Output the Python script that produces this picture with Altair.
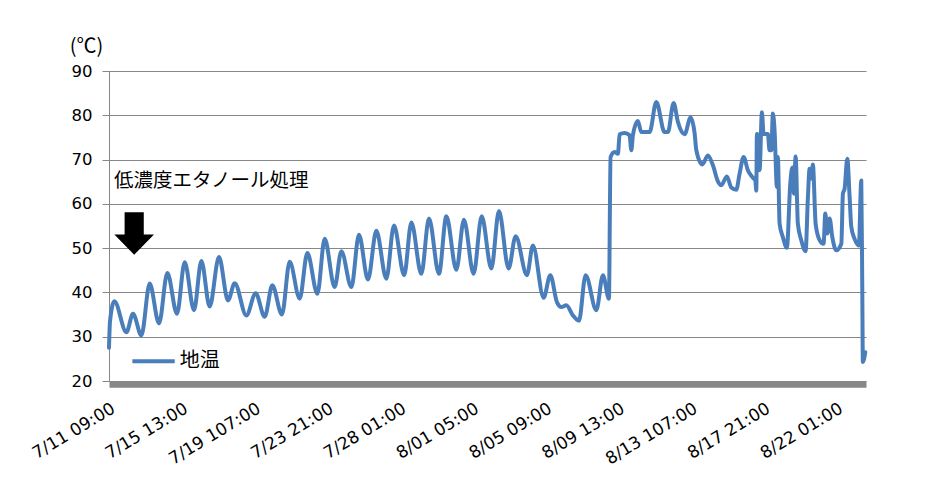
import altair as alt
import pandas as pd

# Soil temperature series (hours since 7/11 09:00, °C)
hours = [0, 1.4, 7.4, 23.9, 33.0, 44.5, 55.9, 68.7, 80.2, 93.4, 104.0, 116.8, 126.9, 138.3, 151.1,
         163.5, 172.7, 188.7, 201.5, 213.9, 224.4, 237.6, 248.2, 262.0, 272.5, 286.3, 296.3, 310.0,
         319.2, 333.0, 343.4, 355.8, 367.3, 381.0, 391.5, 405.5, 415.4, 429.1, 439.6, 453.3, 463.5,
         477.2, 487.6, 500.9, 512.0, 525.3, 535.7, 549.0, 558.7, 574.2, 582.4, 597.1, 606.3, 615.4,
         621.4, 628.3, 637.4, 645.6, 654.8, 669.5, 678.6, 686.8, 689.1, 694.6, 699.2, 701.5, 708.4,
         715.2, 717.6, 719.8, 726.6, 731.3, 742.7, 751.9, 763.3, 767.8, 775.7, 781.6, 790.8, 799.0,
         804.5, 806.9, 815.1, 822.8, 829.7, 836.5, 841.2, 848.9, 854.9, 861.8, 866.3, 871.8, 877.7,
         884.6, 887.9, 889.3, 890.1, 892.8, 893.8, 897.0, 899.3, 905.2, 907.5, 909.9, 912.1, 914.4,
         917.6, 918.9, 921.3, 925.8, 931.3, 936.0, 938.7, 940.9, 943.3, 946.4, 951.1, 957.0, 960.2,
         962.5, 964.8, 967.0, 970.8, 976.3, 981.7, 984.1, 986.8, 990.0, 993.7, 999.2, 1006.1, 1008.3,
         1010.6, 1014.3, 1017.5, 1019.8, 1024.3, 1030.2, 1033.5, 1034.9, 1035.7, 1039.0]
temps = [27.5, 33.5, 38, 31, 35.2, 30.3, 42, 33, 44.4, 35.2, 46.8, 36, 47.1, 36.8, 48,
         38.2, 42.1, 34.8, 39.8, 34.5, 41.6, 35, 46.9, 38.6, 48.9, 39.7, 52.1, 41.2,
         49.3, 41.2, 53, 42.9, 53.9, 43.1, 55.1, 43.9, 55.8, 44.2, 56.7, 44.2, 57.2,
         45.1, 56.4, 44.2, 57.2, 45.4, 58.4, 45.4, 52.7, 43.9, 50.6, 38.8, 43.9, 37.8,
         36.7, 37.1, 34.8, 33.6, 43.9, 36, 43.9, 38.6, 70.6, 71.7, 71.3, 75.7, 76,
         75.5, 72.1, 75.5, 78.7, 76.2, 76.2, 83, 76.2, 76.2, 82.8, 78.5, 75.7, 79.5,
         76, 72.1, 68.9, 70.9, 68.7, 65.1, 64.2, 66.2, 63.7, 63.2, 66.8, 70.6, 67.6,
         65.9, 65.3, 63, 75.8, 75.1, 67.6, 80.7, 75.8, 75.8, 72.1, 72.1, 80.4, 76.5,
         63.8, 70.6, 55.5, 52.5, 50.1, 64.6, 68.2, 62.3, 70.7, 55.5, 51.8, 49.3, 61.5,
         67.9, 65.7, 68.9, 55.5, 51.8, 51, 57.8, 53.3, 56.7, 52.5, 49.5, 51, 62.3,
         63.4, 70.2, 61.5, 54.8, 52.1, 50.6, 65.3, 40.5, 24.3, 26.5]
assert len(hours) == len(temps)

tick_hours = [0, 100, 200, 300, 400, 500, 600, 700, 800, 900, 1000]
tick_labels = ["7/11 09:00", "7/15 13:00", "7/19 107:00", "7/23 21:00", "7/28 01:00",
               "8/01 05:00", "8/05 09:00", "8/09 13:00", "8/13 107:00", "8/17 21:00",
               "8/22 01:00"]
y_ticks = [20, 30, 40, 50, 60, 70, 80, 90]
series_name = "地温"
annotation_text = "低濃度エタノール処理"
y_unit = "(℃)"

BLUE = "#4A7EBB"
GRAY = "#878787"

df = pd.DataFrame({"hour": hours, "temp": temps})
label_expr = "[" + ",".join("'%s'" % s for s in tick_labels) + "][round(datum.value/100)]"

x_scale = alt.Scale(domain=[0, 1040], nice=False, zero=False)
y_scale = alt.Scale(domain=[20, 90], nice=False, zero=False)

line = alt.Chart(df).mark_line(
    color=BLUE, strokeWidth=4, interpolate="monotone", strokeJoin="round", strokeCap="round"
).encode(
    x=alt.X("hour:Q", scale=x_scale, title=None,
            axis=alt.Axis(values=tick_hours, labelExpr=label_expr, grid=False, ticks=False,
                          labelAngle=-31, labelAlign="right", labelBaseline="top",
                          labelPadding=16, offset=3, domainColor=GRAY, domainWidth=6.5,
                          labelFont="DejaVu Sans", labelFontSize=17, labelColor="#000",
                          labelOverlap=False, labelBound=False, labelFlush=False)),
    y=alt.Y("temp:Q", scale=y_scale, title=None,
            axis=alt.Axis(values=y_ticks,
                          grid=True, gridColor=GRAY, gridWidth=1, tickColor=GRAY, tickSize=7,
                          domainColor=GRAY, labelFont="DejaVu Sans", labelFontSize=16.5,
                          labelColor="#000", labelPadding=10, labelFlush=False)),
)

unit_df = pd.DataFrame({"hour": [-31], "temp": [95.4], "text": [y_unit]})
unit = alt.Chart(unit_df).mark_text(
    align="center", baseline="middle", font="Noto Sans CJK JP", fontSize=20, color="#000"
).encode(x=alt.X("hour:Q", title=None), y=alt.Y("temp:Q", title=None), text="text:N")

ann_df = pd.DataFrame({"hour": [7], "temp": [65.2], "text": [annotation_text]})
ann = alt.Chart(ann_df).mark_text(
    align="left", baseline="middle", font="Noto Sans CJK JP", fontSize=19.5, color="#000"
).encode(x=alt.X("hour:Q", title=None), y=alt.Y("temp:Q", title=None), text="text:N")

arrow_df = pd.DataFrame({"hour": [34.6], "temp": [53.3]})
arrow_path = "M-0.45,-1 L0.45,-1 L0.45,0.05 L0.93,0.05 L0,1 L-0.93,0.05 L-0.45,0.05 Z"
arrow = alt.Chart(arrow_df).mark_point(
    shape=arrow_path, filled=True, color="#000", size=1815, opacity=1, strokeWidth=0
).encode(x=alt.X("hour:Q", title=None), y=alt.Y("temp:Q", title=None))

leg_df = pd.DataFrame({"hour": [32.1], "hour2": [90.3], "temp": [24.45],
                       "tx": [97.1], "name": [series_name]})
leg_line = alt.Chart(leg_df).mark_rule(color=BLUE, strokeWidth=4).encode(
    x=alt.X("hour:Q", title=None), x2="hour2:Q", y=alt.Y("temp:Q", title=None))
leg_text = alt.Chart(leg_df).mark_text(
    align="left", baseline="middle", font="Noto Sans CJK JP", fontSize=20, color="#000"
).encode(x=alt.X("tx:Q", title=None), y=alt.Y("temp:Q", title=None), text="name:N")

chart = alt.layer(line, unit, ann, arrow, leg_line, leg_text).properties(
    width=757, height=310,
    autosize=alt.AutoSizeParams(type="none"),
    padding={"left": 101, "top": 63, "right": 57, "bottom": 88},
    background="white",
).configure_view(stroke=None)

chart.save("out.html", embed_options={"renderer": "svg", "actions": False})
